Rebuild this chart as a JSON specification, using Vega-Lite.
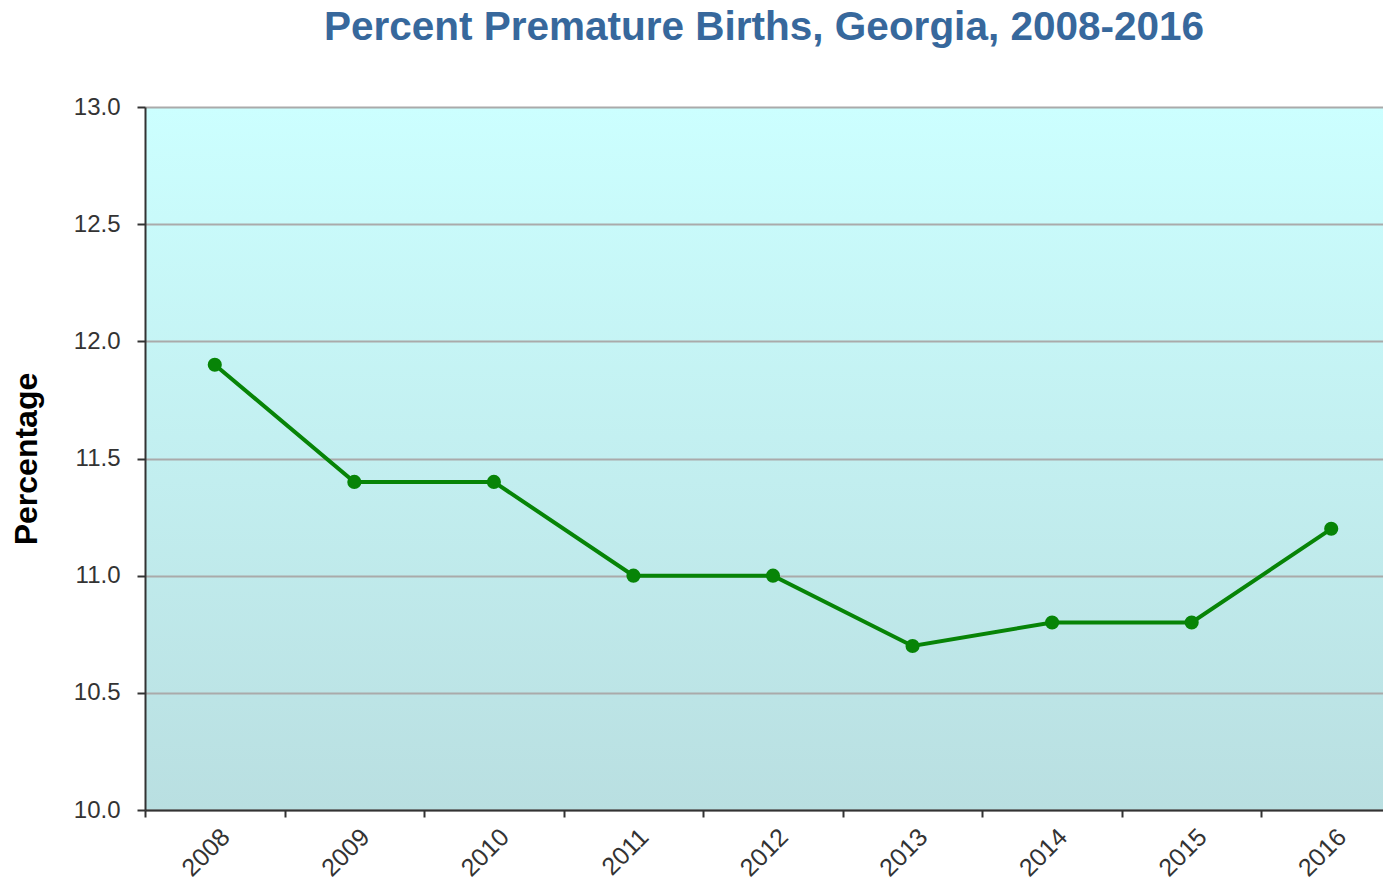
{
  "$schema": "https://vega.github.io/schema/vega-lite/v6.json",
  "autosize": {"type": "none"},
  "padding": {"left": 145, "top": 107, "right": 0, "bottom": 73},
  "width": 1238,
  "height": 703,
  "background": "white",
  "title": {
    "text": "Percent Premature Births, Georgia, 2008-2016",
    "font": "Liberation Sans",
    "fontSize": 40.5,
    "fontWeight": "bold",
    "color": "#37689c",
    "anchor": "middle",
    "offset": 47
  },
  "config": {
    "font": "Liberation Sans",
    "view": {
      "stroke": null,
      "fill": {
        "gradient": "linear",
        "x1": 0, "y1": 0, "x2": 0, "y2": 1,
        "stops": [
          {"offset": 0, "color": "#ccffff"},
          {"offset": 1, "color": "#b9dfe1"}
        ]
      }
    }
  },
  "data": {
    "values": [
      {"year": "2008", "pct": 11.9},
      {"year": "2009", "pct": 11.4},
      {"year": "2010", "pct": 11.4},
      {"year": "2011", "pct": 11.0},
      {"year": "2012", "pct": 11.0},
      {"year": "2013", "pct": 10.7},
      {"year": "2014", "pct": 10.8},
      {"year": "2015", "pct": 10.8},
      {"year": "2016", "pct": 11.2}
    ]
  },
  "encoding": {
    "x": {
      "field": "year",
      "type": "ordinal",
      "scale": {"type": "band", "paddingInner": 0, "paddingOuter": 0, "range": [0, 1256]},
      "axis": {
        "title": null,
        "tickBand": "extent",
        "labelAngle": -45,
        "labelFontSize": 25,
        "labelColor": "#333333",
        "labelPadding": 7,
        "labelOffset": 2,
        "domainColor": "#333333",
        "domainWidth": 2,
        "tickColor": "#333333",
        "tickWidth": 2,
        "tickSize": 7,
        "grid": false
      }
    },
    "y": {
      "field": "pct",
      "type": "quantitative",
      "scale": {"domain": [10, 13], "nice": false, "zero": false},
      "axis": {
        "title": "Percentage",
        "titleFontSize": 32,
        "titleFontWeight": "bold",
        "titleColor": "#000000",
        "titlePadding": 30,
        "values": [10, 10.5, 11, 11.5, 12, 12.5, 13],
        "format": ".1f",
        "labelFontSize": 24,
        "labelColor": "#333333",
        "labelPadding": 17,
        "domainColor": "#333333",
        "domainWidth": 2,
        "tickColor": "#333333",
        "tickWidth": 2,
        "tickSize": 8,
        "grid": true,
        "gridColor": "#aaaaaa",
        "gridWidth": 2
      }
    }
  },
  "layer": [
    {"mark": {"type": "line", "color": "#078407", "strokeWidth": 4}},
    {"mark": {"type": "point", "filled": true, "color": "#078407", "size": 200, "opacity": 1}}
  ]
}
